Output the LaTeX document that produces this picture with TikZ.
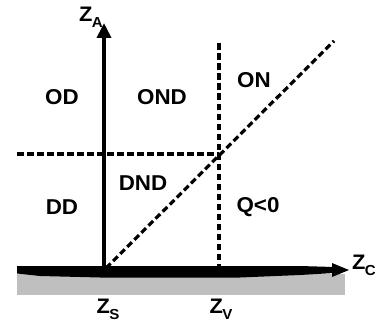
\documentclass[tikz,border=0pt]{standalone}
\usepackage{fontspec}
\setmainfont[FakeStretch=1.04]{Liberation Sans}
\usetikzlibrary{arrows.meta}
\newcommand{\zsub}[1]{Z\kern-0.5pt\raisebox{-6pt}{\fontsize{14.5}{14.5}\selectfont #1}}
\begin{document}
\begin{tikzpicture}[x=1pt,y=-1pt,
  lbl/.style={font=\fontsize{21.5}{21.5}\selectfont\bfseries, inner sep=0pt},
  axlbl/.style={font=\fontsize{21}{21}\selectfont\bfseries, inner sep=0pt},
  dashln/.style={draw=black, line width=3.2pt, dash pattern=on 6.5pt off 3.5pt}]
\useasboundingbox (0,0) rectangle (382,326);
% ground
\fill[gray!50] (17,274) rectangle (345,295);
% coordinates
\coordinate (origin) at (104,270);
\coordinate (atop) at (104,23);
\coordinate (cend) at (349,270);
\coordinate (vtop) at (219,40);
\coordinate (vbot) at (219,270);
\coordinate (hleft) at (17,154);
\coordinate (hright) at (219,154);
\coordinate (dstart) at (106,268);
\coordinate (dend) at (334,41);
% thick horizontal axis (brush stroke)
\fill[black] (17,266) -- (300,266) -- (334,267) -- (334,273) -- (300,275) -- (240,277.5) -- (100,277.5) -- (40,276) -- (17,273.5) -- cycle;
\fill[black] (cend) -- (332,263) -- (332,277) -- cycle;
% vertical axis
\draw[line width=4.2pt, -{Triangle[length=15pt,width=14pt]}] (origin) -- (atop);
% dashed lines
\draw[dashln] (vbot) -- (vtop);
\draw[dashln] (hleft) -- (hright);
\draw[dashln] (dstart) -- (dend);
% region labels
\node[lbl] (od) at (62,97) {OD};
\node[lbl] (ond) at (162,97) {OND};
\node[lbl] (on) at (254,80) {ON};
\node[lbl] (dnd) at (143,183) {DND};
\node[lbl] (dd) at (62,207) {DD};
\node[lbl] (q) at (258,207) {Q<0};
% axis labels
\node[axlbl] (za) at (91,17) {\zsub{A}};
\node[axlbl] (zc) at (364,265) {\zsub{C}};
\node[axlbl] (zs) at (108,309) {\zsub{S}};
\node[axlbl] (zv) at (221,309) {\zsub{V}};
\end{tikzpicture}
\end{document}
